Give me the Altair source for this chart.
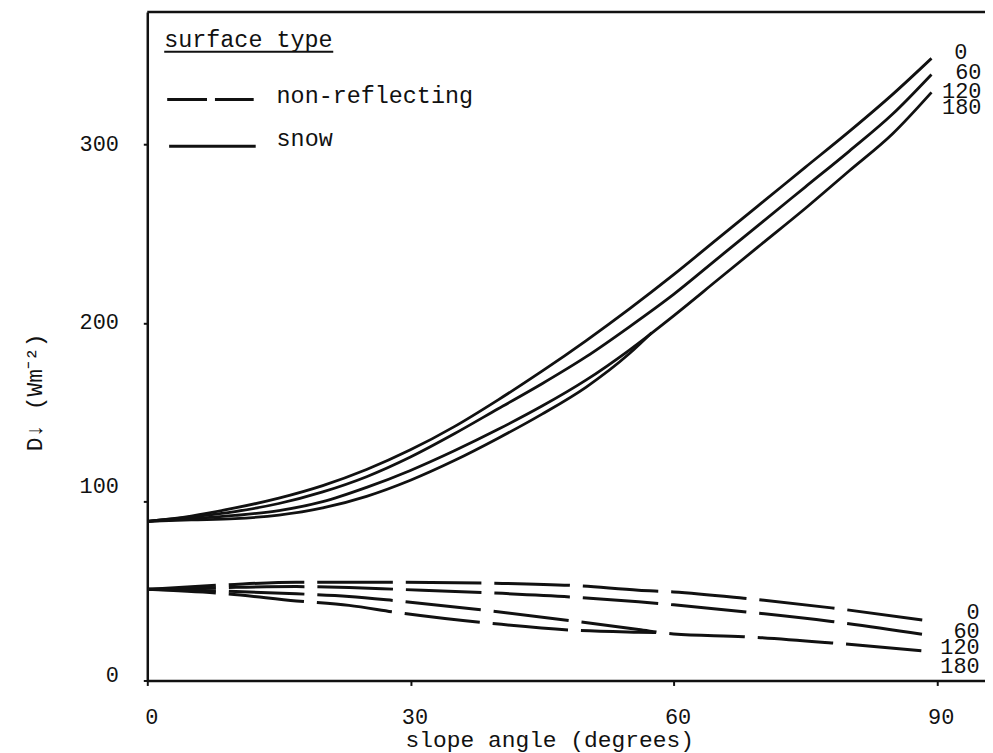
import altair as alt
import pandas as pd

# ---------------- data ----------------
azimuths = ["0", "60", "120", "180"]

# snow surface (solid)
snow_x = [0, 5, 10, 15, 20, 25, 30, 35, 40, 45, 50, 55, 60, 65, 70, 75, 80, 85, 89.4]
snow_0 = [89, 92, 96.5, 102, 109, 118, 129, 142, 157, 173, 190, 208, 227, 247, 267, 287, 307, 328, 348]
snow_60 = [89, 91.5, 94.5, 99, 105.5, 114, 125, 138, 152, 166, 181, 198, 216, 236, 256, 276, 296, 317, 339]
snow_120 = [89, 90.5, 92.3, 95, 100, 108, 117.5, 128.5, 140.5, 153.5, 168, 185, 204, 224, 244, 264, 285, 306, 329]
snow_180_x = [0, 5, 10, 15, 20, 25, 30, 35, 40, 45, 50, 55, 57.5]
snow_180 = [89, 89.8, 90.5, 92.5, 96.5, 103, 112, 123, 135.5, 149, 164, 183, 194.5]

# non-reflecting surface (dashed)
nr_x = [0, 9, 17, 23, 28.5, 39, 49, 56, 60, 68, 78, 89.5]
nr_0 = [51, 53.5, 55, 55, 55, 54.5, 53, 50.5, 49.5, 46, 40.6, 33]
nr_60 = [51, 52, 52.5, 52, 51, 49, 46.5, 44, 42.3, 38.5, 33, 25]
nr_120 = [51, 50, 48.5, 47, 44.5, 39, 33, 28.5, 26, 24.5, 21, 16]
nr_180_x = [0, 9, 17, 23, 28.5, 39, 49, 56, 58]
nr_180 = [51, 48.5, 44.5, 42, 38, 32, 28, 27, 26.8]

x_ticks = [0, 30, 60, 90]
y_ticks = [0, 100, 200, 300]

# end labels (azimuth) positions in data units
top_lab_txt = ["0", "60", "120", "180"]
top_lab_x = [93.5, 95.1, 95.1, 95.1]
top_lab_y = [351.7, 340.6, 329.7, 320.8]
bot_lab_txt = ["0", "60", "120", "180"]
bot_lab_x = [94.9, 94.9, 94.9, 94.9]
bot_lab_y = [38.4, 27.8, 18.9, 7.8]

XMAX = 95.5
YMAX = 374
FONT = "Liberation Mono"
INK = "#111111"

# ---------------- build tables ----------------
rows = []
for az, xs_, ys_ in [("0", snow_x, snow_0), ("60", snow_x, snow_60),
                     ("120", snow_x, snow_120), ("180", snow_180_x, snow_180)]:
    for x, y in zip(xs_, ys_):
        rows.append({"angle": x, "D": y, "az": az, "surface": "snow"})
snow_df = pd.DataFrame(rows)

rows = []
for az, xs_, ys_ in [("0", nr_x, nr_0), ("60", nr_x, nr_60),
                     ("120", nr_x, nr_120), ("180", nr_180_x, nr_180)]:
    for x, y in zip(xs_, ys_):
        rows.append({"angle": x, "D": y, "az": az, "surface": "non-reflecting"})
nr_df = pd.DataFrame(rows)

xs = alt.Scale(domain=[0, XMAX], nice=False, zero=False)
ys = alt.Scale(domain=[0, YMAX], nice=False, zero=False)

x_axis = alt.Axis(
    values=x_ticks, title="slope angle (degrees)", grid=False,
    domainColor=INK, domainWidth=2.5, tickColor=INK, tickWidth=2, tickSize=5,
    labelFont=FONT, labelFontSize=22, labelColor=INK, labelPadding=21, labelOffset=4,
    labelFlush=False,
    titleFont=FONT, titleFontSize=23, titleFontWeight="normal", titleColor=INK,
    titleX=404, titleY=59, titleBaseline="middle", titleAlign="center",
)
y_axis = alt.Axis(
    values=y_ticks, title="D↓ (Wm⁻²)", grid=False,
    domainColor=INK, domainWidth=2.5, tickColor=INK, tickWidth=2, tickSize=4,
    labelFont=FONT, labelFontSize=22, labelColor=INK, labelPadding=25,
    labelFlush=False,
    labelOffset={"condition": [{"test": "datum.value == 100", "value": -16},
                               {"test": "datum.value == 0", "value": -6}],
                 "value": -1},
    titleFont=FONT, titleFontSize=23, titleFontWeight="normal", titleColor=INK,
    titleAngle=270, titleX=-113, titleY=382, titleBaseline="middle", titleAlign="center",
)

snow = alt.Chart(snow_df).mark_line(
    color=INK, strokeWidth=2.8, interpolate="monotone"
).encode(
    x=alt.X("angle:Q", scale=xs, axis=x_axis),
    y=alt.Y("D:Q", scale=ys, axis=y_axis),
    detail="az:N",
)

nonref = alt.Chart(nr_df).mark_line(
    color=INK, strokeWidth=3, interpolate="monotone",
    strokeDash=[76, 13], strokeDashOffset=7
).encode(
    x=alt.X("angle:Q", scale=xs),
    y=alt.Y("D:Q", scale=ys),
    detail="az:N",
)

frame = alt.Chart(pd.DataFrame({"a": [0], "b": [XMAX], "c": [YMAX]})).mark_rule(
    color=INK, strokeWidth=2.5
).encode(x=alt.X("a:Q", scale=xs), x2="b:Q", y=alt.Y("c:Q", scale=ys))

# legend drawn inside the plot
leg_title = pd.DataFrame({"x": [1.93], "y": [358.4], "t": ["surface type"]})
leg_items = pd.DataFrame({"x": [14.74, 14.74], "y": [326.7, 302.7],
                          "t": ["non-reflecting", "snow"]})
leg_under = pd.DataFrame({"x": [1.93], "x2": [21.2], "y": [351.7]})
leg_dash = pd.DataFrame({"x": [2.27], "x2": [12.13], "y": [325.0]})
leg_solid = pd.DataFrame({"x": [2.49], "x2": [12.36], "y": [298.8]})


def text_layer(df, align, size=22):
    return alt.Chart(df).mark_text(
        font=FONT, fontSize=size, color=INK, align=align, baseline="middle"
    ).encode(x=alt.X("x:Q", scale=xs), y=alt.Y("y:Q", scale=ys), text="t:N")


legend_layers = [
    text_layer(leg_title, "left", 23.5),
    text_layer(leg_items, "left", 23.5),
    alt.Chart(leg_under).mark_rule(color=INK, strokeWidth=2.2).encode(
        x=alt.X("x:Q", scale=xs), x2="x2:Q", y=alt.Y("y:Q", scale=ys)),
    alt.Chart(leg_dash).mark_rule(color=INK, strokeWidth=3, strokeDash=[40, 8]).encode(
        x=alt.X("x:Q", scale=xs), x2="x2:Q", y=alt.Y("y:Q", scale=ys)),
    alt.Chart(leg_solid).mark_rule(color=INK, strokeWidth=3).encode(
        x=alt.X("x:Q", scale=xs), x2="x2:Q", y=alt.Y("y:Q", scale=ys)),
]

top_df = pd.DataFrame({"x": top_lab_x, "y": top_lab_y, "t": top_lab_txt})
bot_df = pd.DataFrame({"x": bot_lab_x, "y": bot_lab_y, "t": bot_lab_txt})

chart = alt.layer(
    frame, nonref, snow, *legend_layers,
    text_layer(top_df, "right"), text_layer(bot_df, "right"),
).properties(
    width=842, height=672,
    autosize=alt.AutoSizeParams(type="none"),
    padding={"left": 140, "top": 2, "right": 0, "bottom": 72},
    background="white",
).configure_view(stroke=None)

chart.save("out.html", embed_options={"renderer": "svg", "actions": False})
